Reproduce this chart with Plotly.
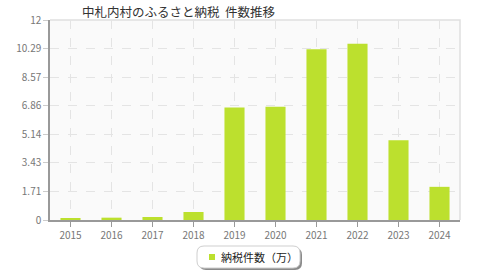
import plotly.graph_objects as go

years = ["2015", "2016", "2017", "2018", "2019", "2020", "2021", "2022", "2023", "2024"]
counts = [0.07, 0.14, 0.18, 0.48, 6.75, 6.8, 10.25, 10.57, 4.78, 1.99]
tick_vals = [0, 1.71, 3.43, 5.14, 6.86, 8.57, 10.29, 12]
tick_text = ["0", "1.71", "3.43", "5.14", "6.86", "8.57", "10.29", "12"]
series_name = "納税件数（万）"
title = "中札内村のふるさと納税  件数推移"

FONT = "Noto Sans CJK JP"
L, R, T, B = 50, 20, 20, 60
W, H = 480, 280
pw, ph = W - L - R, H - T - B

def px(x):
    return (x - L) / pw

def py(y):
    return (H - B - y) / ph

fig = go.Figure()
fig.add_trace(go.Bar(x=years, y=counts, name=series_name, marker=dict(color="#bce02e", line=dict(width=0)),
                     width=0.49, showlegend=False))

def rrect(x0, y0, x1, y1, r):
    return (f"M {x0+r},{y0} L {x1-r},{y0} Q {x1},{y0} {x1},{y0+r} L {x1},{y1-r} Q {x1},{y1} {x1-r},{y1} "
            f"L {x0+r},{y1} Q {x0},{y1} {x0},{y1-r} L {x0},{y0+r} Q {x0},{y0} {x0+r},{y0} Z")

shapes = []
# legend shadow + box (drawn in pixel space -> paper)
def path_px(x0, y0, x1, y1, r):
    pts = rrect(x0, y0, x1, y1, r)
    out = []
    for tok in pts.split(" "):
        if "," in tok:
            a, b = tok.split(",")
            out.append(f"{px(float(a)):.5f},{py(float(b)):.5f}")
        else:
            out.append(tok)
    return " ".join(out)

shapes.append(dict(type="path", xref="paper", yref="paper", path=path_px(199, 248, 302, 270, 7),
                   fillcolor="#8a8a8a", line=dict(width=0), layer="above"))
shapes.append(dict(type="path", xref="paper", yref="paper", path=path_px(197, 246, 300, 268, 7),
                   fillcolor="#ffffff", line=dict(color="#cfcfcf", width=1), layer="above"))
# legend marker
shapes.append(dict(type="rect", xref="paper", yref="paper", x0=px(209), x1=px(215), y0=py(260), y1=py(254),
                   fillcolor="#bce02e", line=dict(width=0), layer="above"))
# top/right frame
shapes.append(dict(type="path", xref="paper", yref="paper", path="M 0,1 L 1,1 L 1,0",
                   line=dict(color="#e0e0e0", width=1.5), layer="below"))

annotations = [
    dict(text=title, xref="paper", yref="paper", x=px(80), y=py(12), xanchor="left", yanchor="middle",
         showarrow=False, font=dict(family=FONT, size=12.5, color="#333333")),
    dict(text=series_name, xref="paper", yref="paper", x=px(219), y=py(257), xanchor="left", yanchor="middle",
         showarrow=False, font=dict(family=FONT, size=11, color="#222222")),
]

fig.update_layout(
    width=W, height=H,
    margin=dict(l=L, r=R, t=T, b=B),
    paper_bgcolor="#ffffff",
    plot_bgcolor="#fafafa",
    bargap=0.51,
    shapes=shapes,
    annotations=annotations,
    xaxis=dict(
        type="category", showline=True, linecolor="#999999", linewidth=1.5,
        ticks="outside", ticklen=5, tickcolor="#999999",
        showgrid=True, gridcolor="#e4e4e4", griddash="dash", gridwidth=1,
        tickfont=dict(family=FONT, size=10, color="#777777"),
        fixedrange=True,
    ),
    yaxis=dict(
        range=[0, 12], tickvals=tick_vals, ticktext=tick_text,
        showline=True, linecolor="#999999", linewidth=1.5,
        ticks="outside", ticklen=5, tickcolor="#cccccc",
        showgrid=True, gridcolor="#e4e4e4", griddash="dash", gridwidth=1,
        zeroline=False,
        tickfont=dict(family=FONT, size=10, color="#777777"),
        fixedrange=True,
    ),
)

fig.write_html("out.html")
